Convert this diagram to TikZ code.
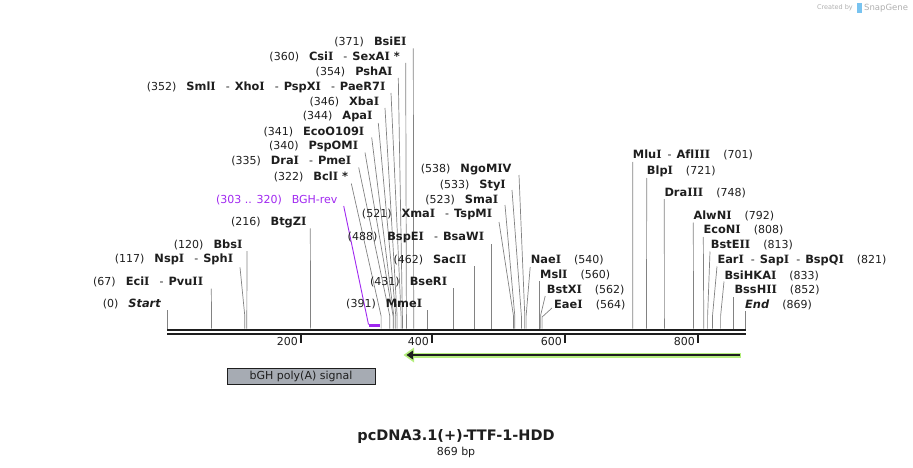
\documentclass[tikz,border=0pt]{standalone}
\usepackage{fontspec}
\setmainfont{DejaVu Sans}[Ligatures=NoCommon]
\newfontfamily\seriffam{DejaVu Serif}[Ligatures=NoCommon]
\usetikzlibrary{calc}
\definecolor{sitegray}{RGB}{130,130,130}
\definecolor{bghpurple}{RGB}{160,40,240}
\definecolor{lgreen}{RGB}{180,238,125}
\definecolor{boxgray}{RGB}{166,171,179}
\definecolor{inkblack}{RGB}{30,30,30}
\definecolor{wmgray}{RGB}{175,175,175}
\definecolor{wmblue}{RGB}{120,195,240}
\newcommand\nmI{{\seriffam I}}
\ExplSyntaxOn
\tl_new:N \l_nmtext_tl
\NewDocumentCommand\nm{m}{
  \tl_set:Nn \l_nmtext_tl {#1}
  \tl_replace_all:Nnn \l_nmtext_tl {I} {\nmI}
  {\fontsize{11.4}{13}\selectfont\bfseries \tl_use:N \l_nmtext_tl}
}
\ExplSyntaxOff
\newcommand\gp{\hspace{10pt}}
\newcommand\gq{\hspace{13pt}}
\newcommand\sepx{\hspace{10pt}-\hspace{5pt}}
\begin{document}
\begin{tikzpicture}[x=1pt,y=-1pt,
  lbl/.style={font=\fontsize{11}{13}\selectfont, inner sep=0pt, text=inkblack},
  lr/.style={lbl, anchor=east},
  ll/.style={lbl, anchor=west},
  siteline/.style={draw=sitegray, line width=0.7pt},
  tick/.style={draw=inkblack, line width=1.4pt},
  ticklbl/.style={font=\fontsize{11}{13}\selectfont, inner sep=0pt, anchor=east, text=inkblack}]
\useasboundingbox (0,0) rectangle (913,468);

% watermark
\node[font=\fontsize{6.5}{8}\selectfont, text=wmgray, anchor=east, inner sep=0pt] (wm1) at (853,8) {Created by};
\fill[wmblue] (857,3) rectangle (862,13);
\node[font=\fontsize{8.5}{10}\selectfont, text=wmgray, anchor=west, inner sep=0pt] (wm2) at (864,8) {SnapGene};

% baseline
\coordinate (b0) at (167,330);
\coordinate (b1) at (746,330);
\coordinate (c0) at (167,334);
\coordinate (c1) at (746,334);
\draw[inkblack, line width=2.6pt] (b0) -- (b1);
\draw[inkblack, line width=2.6pt] (c0) -- (c1);

% ticks
\foreach \tx/\tl in {301/200,432/400,565/600,698/800}{
  \draw[tick] (\tx,335) -- (\tx,343);
  \node[ticklbl] (t\tl) at (\tx-3,341) {\tl};
}

% site coordinates at baseline
\foreach \n/\x in {0/167.0,67/211.6,117/244.8,120/246.8,216/310.6,322/381.1,335/389.8,340/393.1,341/393.8,344/395.8,346/397.1,352/401.1,354/402.4,360/406.4,371/413.7,391/427.0,431/453.6,462/474.2,488/491.5,521/513.5,523/514.8,533/521.4,538/524.8,540/526.1,560/539.4,562/540.7,564/542.1,701/632.8,721/646.5,748/664.4,792/693.5,808/703.8,813/707.6,821/712.5,833/720.6,852/733.6,869/745.0}{
  \coordinate (s\n) at (\x,328.7);
  \coordinate (k\n) at (\x,316);
}

% ---------- left stack ----------
\node[lr] (L371) at (406.7,42.3) {(371)\gp\nm{BsiEI}};
\node[lr] (L360) at (400,57) {(360)\gp\nm{CsiI}\sepx\nm{SexAI *}};
\node[lr] (L354) at (392.7,72) {(354)\gp\nm{PshAI}};
\node[lr] (L352) at (385.7,87) {(352)\gp\nm{SmlI}\sepx\nm{XhoI}\sepx\nm{PspXI}\sepx\nm{PaeR7I}};
\node[lr] (L346) at (379.3,102) {(346)\gp\nm{XbaI}};
\node[lr] (L344) at (372.7,117) {(344)\gp\nm{ApaI}};
\node[lr] (L341) at (364.5,131.5) {(341)\gp\nm{EcoO109I}};
\node[lr] (L340) at (358.3,146.5) {(340)\gp\nm{PspOMI}};
\node[lr] (L335) at (351.5,161.5) {(335)\gp\nm{DraI}\sepx\nm{PmeI}};
\node[lr] (L322) at (348.3,176.5) {(322)\gp\nm{BclI *}};
\node[lbl, anchor=east, text=bghpurple] (Lbgh) at (337.7,200) {(303 .. 320)\gp BGH-rev};

\draw[siteline] ($(L371.east)+(6.6,6)$) -- (s371);
\draw[siteline] ($(L360.east)+(5.7,6)$) -- (k360) -- (s360);
\draw[siteline] ($(L354.east)+(5.6,6)$) -- (k354) -- (s354);
\draw[siteline] ($(L352.east)+(5.3,6)$) -- (k352) -- (s352);
\draw[siteline] ($(L346.east)+(5.7,6)$) -- (k346) -- (s346);
\draw[siteline] ($(L344.east)+(5.6,6)$) -- (k344) -- (s344);
\draw[siteline] ($(L341.east)+(7.2,6)$) -- (k341) -- (s341);
\draw[siteline] ($(L340.east)+(6.7,6)$) -- (k340) -- (s340);
\draw[siteline] ($(L335.east)+(7.2,6)$) -- (k335) -- (s335);
\draw[siteline] ($(L322.east)+(3,7)$) -- (k322) -- (s322);

% BGH-rev primer
\coordinate (p0) at (368.5,325.5);
\coordinate (p1) at (379.8,325.5);
\draw[bghpurple, line width=0.9pt] ($(Lbgh.east)+(6,6)$) -- (368.5,324.5);
\draw[bghpurple, line width=2.4pt] (p0) -- (p1);

% ---------- middle (right-aligned) ----------
\node[lr] (L538) at (511.7,170) {(538)\gp\nm{NgoMIV}};
\node[lr] (L533) at (506,185) {(533)\gp\nm{StyI}};
\node[lr] (L523) at (498.3,200) {(523)\gp\nm{SmaI}};
\node[lr] (L521) at (492.3,215) {(521)\gp\nm{XmaI}\sepx\nm{TspMI}};
\node[lr] (L488) at (484.3,237.3) {(488)\gp\nm{BspEI}\sepx\nm{BsaWI}};
\node[lr] (L462) at (466.7,260) {(462)\gp\nm{SacII}};
\node[lr] (L431) at (447.3,282.3) {(431)\gp\nm{BseRI}};
\node[lr] (L391) at (422.3,304.3) {(391)\gp\nm{MmeI}};

\draw[siteline] ($(L538.east)+(7.3,5)$) -- (k538) -- (s538);
\draw[siteline] ($(L533.east)+(6,5)$) -- (k533) -- (s533);
\draw[siteline] ($(L523.east)+(6.7,5)$) -- (k523) -- (s523);
\draw[siteline] ($(L521.east)+(6.7,7)$) -- (k521) -- (s521);
\draw[siteline] ($(L488.east)+(7.2,6.7)$) -- (s488);
\draw[siteline] ($(L462.east)+(7.5,6)$) -- (s462);
\draw[siteline] ($(L431.east)+(6.3,6)$) -- (s431);
\draw[siteline] ($(L391.east)+(4.7,6)$) -- (s391);

% ---------- middle (left-aligned) ----------
\node[ll] (L540) at (530.7,260) {\nm{NaeI}\gq(540)};
\node[ll] (L560) at (540,275) {\nm{MslI}\gq(560)};
\node[ll] (L562) at (546.7,290) {\nm{BstXI}\gq(562)};
\node[ll] (L564) at (554,305) {\nm{EaeI}\gq(564)};

\draw[siteline] ($(L540.west)+(-0.5,7)$) -- (k540) -- (s540);
\draw[siteline] ($(L560.west)+(-0.6,6)$) -- (s560);
\draw[siteline] ($(L562.west)+(-1.5,6)$) -- (540.7,315) -- (s562);
\draw[siteline] ($(L564.west)+(-2,3)$) -- (542.1,317) -- (s564);

% ---------- right ----------
\node[ll] (L701) at (632.7,155) {\nm{MluI}\hspace{6pt}-\hspace{5pt}\nm{AflIII}\gq(701)};
\node[ll] (L721) at (646.7,171.5) {\nm{BlpI}\gq(721)};
\node[ll] (L748) at (664.3,192.7) {\nm{DraIII}\gq(748)};
\node[ll] (L792) at (693.3,216) {\nm{AlwNI}\gq(792)};
\node[ll] (L808) at (703.3,230.5) {\nm{EcoNI}\gq(808)};
\node[ll] (L813) at (710.7,245.5) {\nm{BstEII}\gq(813)};
\node[ll] (L821) at (717.3,260) {\nm{EarI}\hspace{7pt}-\hspace{5pt}\nm{SapI}\hspace{7pt}-\hspace{5pt}\nm{BspQI}\gq(821)};
\node[ll] (L833) at (724.3,275.5) {\nm{BsiHKAI}\gq(833)};
\node[ll] (L852) at (734.3,290.5) {\nm{BssHII}\gq(852)};
\node[ll] (L869) at (745,305) {{\fontsize{11.4}{13}\selectfont\bfseries\itshape End}\gq(869)};

\draw[siteline] ($(L701.west)+(0,7)$) -- (s701);
\draw[siteline] ($(L721.west)+(0,6.5)$) -- (s721);
\draw[siteline] ($(L748.west)+(0,6.5)$) -- (s748);
\draw[siteline] ($(L792.west)+(0,6.5)$) -- (s792);
\draw[siteline] ($(L808.west)+(0,6.5)$) -- (s808);
\draw[siteline] ($(L813.west)+(-0.7,6)$) -- (k813) -- (s813);
\draw[siteline] ($(L821.west)+(-0.3,6.5)$) -- (k821) -- (s821);
\draw[siteline] ($(L833.west)+(-0.3,6)$) -- (k833) -- (s833);
\draw[siteline] ($(L852.west)+(-0.7,6.5)$) -- (s852);
\draw[siteline] ($(L869.west)+(0,6)$) -- (s869);

% ---------- left bottom ----------
\node[lr] (L216) at (306.7,222.3) {(216)\gp\nm{BtgZI}};
\node[lr] (L120) at (242.7,245) {(120)\gp\nm{BbsI}};
\node[lr] (L117) at (233.3,259.3) {(117)\gp\nm{NspI}\sepx\nm{SphI}};
\node[lr] (L67) at (203.3,281.7) {(67)\gp\nm{EciI}\sepx\nm{PvuII}};
\node[lr] (L0) at (161,304.3) {(0)\gp{\fontsize{11.4}{13}\selectfont\bfseries\itshape Start}};

\draw[siteline] ($(L216.east)+(3.6,6)$) -- (s216);
\draw[siteline] ($(L120.east)+(4.3,6)$) -- (s120);
\draw[siteline] ($(L117.east)+(6.7,8)$) -- (k117) -- (s117);
\draw[siteline] ($(L67.east)+(8,7)$) -- (s67);
\draw[siteline] ($(L0.east)+(6,6)$) -- (s0);

% ---------- features ----------
\coordinate (g1) at (741,355);
\coordinate (g0) at (410,355);
\draw[lgreen, line width=5pt] (g1) -- (g0);
\fill[lgreen] (403.5,355) -- (414,347.5) -- (414,362.5) -- cycle;
\draw[inkblack, line width=1.8pt] (739.5,355) -- (411,355);
\fill[inkblack] (406.5,355) -- (413,350.5) -- (413,359.5) -- cycle;

\node[draw=inkblack, line width=0.9pt, fill=boxgray, minimum width=148pt, minimum height=16pt, inner sep=0pt, font=\fontsize{11}{13}\selectfont, text=inkblack] (bgh) at (301,376) {bGH poly(A) signal};

% title
\node[font=\fontsize{14.5}{16}\selectfont\bfseries, text=inkblack, inner sep=0pt] (title) at (456,437) {pcDNA3.1(+)-TTF-1-HDD};
\node[font=\fontsize{11}{12}\selectfont, text=inkblack, inner sep=0pt] (len) at (456,452) {869 bp};
\end{tikzpicture}
\end{document}
